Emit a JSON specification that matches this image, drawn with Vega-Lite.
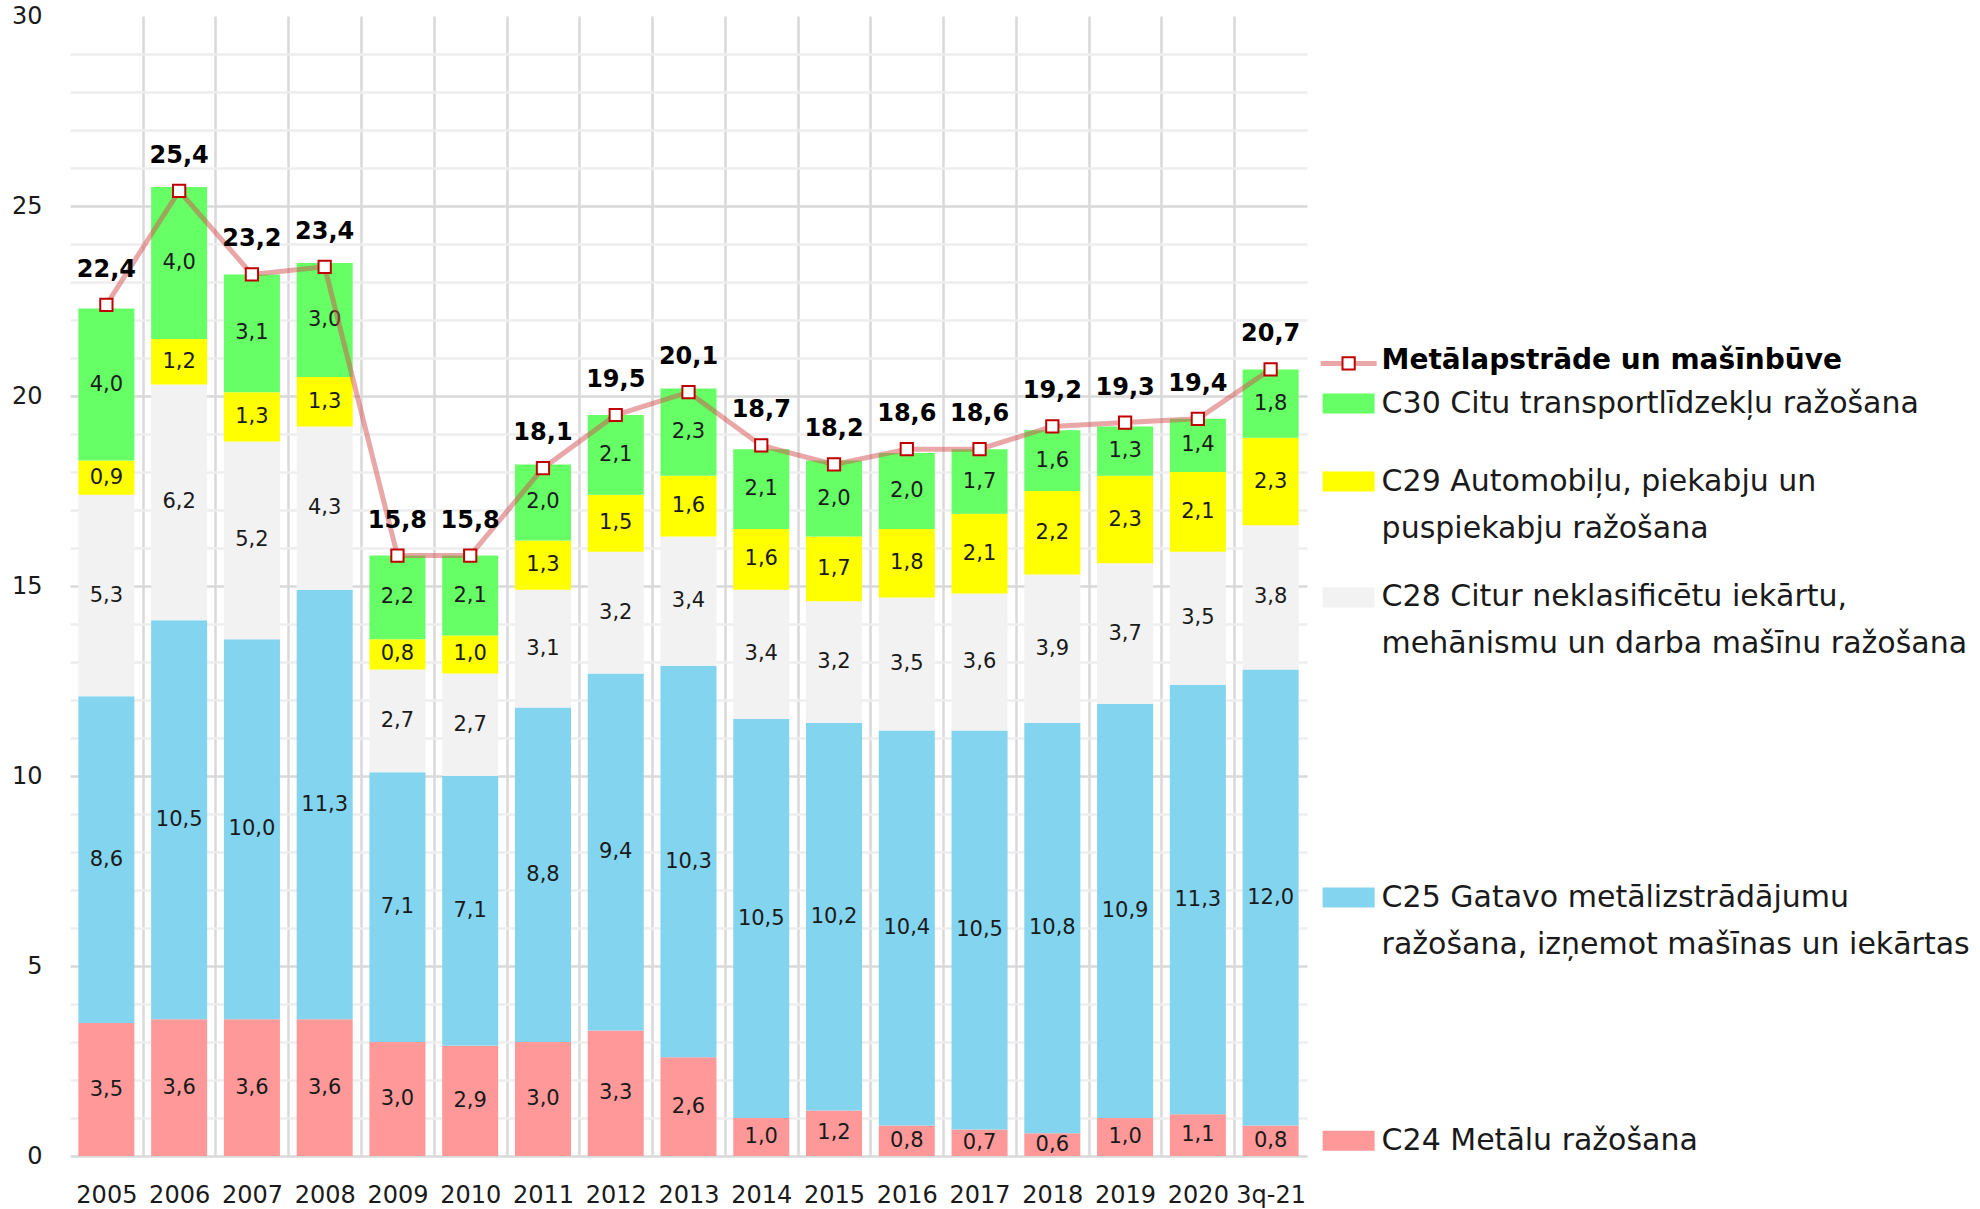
{
  "$schema": "https://vega.github.io/schema/vega-lite/v6.json",
  "width": 1237,
  "height": 1140,
  "autosize": {"type": "none"},
  "padding": {"left": 70, "top": 16, "right": 673, "bottom": 53},
  "background": "white",
  "config": {
    "font": "DejaVu Sans",
    "view": {"stroke": null},
    "locale": {"number": {"decimal": ",", "thousands": " ", "grouping": [3], "currency": ["", ""]}}
  },
  "resolve": {"axis": {"y": "independent"}},
  "datasets": {
    "main": [
      {"cat": "2005", "C24": 3.5, "C25": 8.6, "C28": 5.3, "C29": 0.9, "C30": 4.0, "total": 22.4},
      {"cat": "2006", "C24": 3.6, "C25": 10.5, "C28": 6.2, "C29": 1.2, "C30": 4.0, "total": 25.4},
      {"cat": "2007", "C24": 3.6, "C25": 10.0, "C28": 5.2, "C29": 1.3, "C30": 3.1, "total": 23.2},
      {"cat": "2008", "C24": 3.6, "C25": 11.3, "C28": 4.3, "C29": 1.3, "C30": 3.0, "total": 23.4},
      {"cat": "2009", "C24": 3.0, "C25": 7.1, "C28": 2.7, "C29": 0.8, "C30": 2.2, "total": 15.8},
      {"cat": "2010", "C24": 2.9, "C25": 7.1, "C28": 2.7, "C29": 1.0, "C30": 2.1, "total": 15.8},
      {"cat": "2011", "C24": 3.0, "C25": 8.8, "C28": 3.1, "C29": 1.3, "C30": 2.0, "total": 18.1},
      {"cat": "2012", "C24": 3.3, "C25": 9.4, "C28": 3.2, "C29": 1.5, "C30": 2.1, "total": 19.5},
      {"cat": "2013", "C24": 2.6, "C25": 10.3, "C28": 3.4, "C29": 1.6, "C30": 2.3, "total": 20.1},
      {"cat": "2014", "C24": 1.0, "C25": 10.5, "C28": 3.4, "C29": 1.6, "C30": 2.1, "total": 18.7},
      {"cat": "2015", "C24": 1.2, "C25": 10.2, "C28": 3.2, "C29": 1.7, "C30": 2.0, "total": 18.2},
      {"cat": "2016", "C24": 0.8, "C25": 10.4, "C28": 3.5, "C29": 1.8, "C30": 2.0, "total": 18.6},
      {"cat": "2017", "C24": 0.7, "C25": 10.5, "C28": 3.6, "C29": 2.1, "C30": 1.7, "total": 18.6},
      {"cat": "2018", "C24": 0.6, "C25": 10.8, "C28": 3.9, "C29": 2.2, "C30": 1.6, "total": 19.2},
      {"cat": "2019", "C24": 1.0, "C25": 10.9, "C28": 3.7, "C29": 2.3, "C30": 1.3, "total": 19.3},
      {"cat": "2020", "C24": 1.1, "C25": 11.3, "C28": 3.5, "C29": 2.1, "C30": 1.4, "total": 19.4},
      {"cat": "3q-21", "C24": 0.8, "C25": 12.0, "C28": 3.8, "C29": 2.3, "C30": 1.8, "total": 20.7}
    ],
    "names": [
      {"series": "C30", "l1": "C30 Citu transportlīdzekļu ražošana", "l2": ""},
      {"series": "C29", "l1": "C29 Automobiļu, piekabju un", "l2": "puspiekabju ražošana"},
      {"series": "C28", "l1": "C28 Citur neklasificētu iekārtu,", "l2": "mehānismu un darba mašīnu ražošana"},
      {"series": "C25", "l1": "C25 Gatavo metālizstrādājumu", "l2": "ražošana, izņemot mašīnas un iekārtas"},
      {"series": "C24", "l1": "C24 Metālu ražošana", "l2": ""}
    ]
  },
  "data": {"name": "main"},
  "encoding": {
    "x": {
      "field": "cat",
      "type": "nominal",
      "scale": {
        "domain": ["2005","2006","2007","2008","2009","2010","2011","2012","2013","2014","2015","2016","2017","2018","2019","2020","3q-21"],
        "paddingInner": 0.23,
        "paddingOuter": 0.115
      },
      "axis": {
        "title": null,
        "bandPosition": 0,
        "tickOffset": -8.4,
        "labelOffset": 8.4,
        "tickExtra": false,
        "grid": true,
        "gridColor": {"condition": {"test": "datum.value === '2005'", "value": "rgba(255,255,255,0)"}, "value": "#d9d9d9"},
        "gridWidth": 2.5,
        "ticks": false,
        "domain": false,
        "labelAngle": 0,
        "labelFontSize": 24,
        "labelColor": "#1a1a1a",
        "labelPadding": 27,
        "labelOverlap": false
      }
    }
  },
  "layer": [
    {
      "transform": [{"fold": ["C24", "C25", "C28", "C29", "C30"], "as": ["series", "v"]}],
      "mark": {"type": "bar"},
      "encoding": {
        "y": {
          "field": "v",
          "type": "quantitative",
          "stack": "zero",
          "scale": {"domain": [0, 30], "nice": false},
          "axis": {
            "title": null,
            "values": [0, 5, 10, 15, 20, 25, 30],
            "grid": true,
            "gridColor": {"condition": {"test": "datum.value === 30", "value": "rgba(255,255,255,0)"}, "value": "#d9d9d9"},
            "gridWidth": 2.5,
            "ticks": false,
            "domain": false,
            "labelFontSize": 24,
            "labelPadding": 28,
            "labelColor": "#1a1a1a",
            "labelOverlap": false
          }
        },
        "order": {"field": "series", "type": "ordinal", "sort": "ascending"},
        "color": {
          "field": "series",
          "type": "nominal",
          "scale": {"domain": ["C24", "C25", "C28", "C29", "C30"], "range": ["#FF9999", "#83D4EE", "#F2F2F2", "#FFFF00", "#66FF66"]},
          "legend": null
        }
      }
    },
    {
      "transform": [{"fold": ["C24", "C25", "C28", "C29", "C30"], "as": ["series", "v"]}],
      "mark": {"type": "text", "fontSize": 21, "color": "#1a1a1a", "baseline": "middle"},
      "encoding": {
        "y": {"field": "v", "type": "quantitative", "stack": "zero", "bandPosition": 0.5, "axis": null},
        "detail": {"field": "series"},
        "order": {"field": "series", "type": "ordinal", "sort": "ascending"},
        "text": {"field": "v", "type": "quantitative", "format": ".1f"}
      }
    },
    {
      "mark": {"type": "line", "color": "#D35050", "opacity": 0.5, "strokeWidth": 5},
      "encoding": {
        "y": {
          "field": "total",
          "type": "quantitative",
          "axis": {
            "orient": "right",
            "title": null,
            "values": [1,2,3,4,6,7,8,9,11,12,13,14,16,17,18,19,21,22,23,24,26,27,28,29],
            "labels": false,
            "ticks": false,
            "domain": false,
            "grid": true,
            "gridColor": "#eeeeee",
            "gridWidth": 2.5
          }
        }
      }
    },
    {
      "mark": {"type": "point", "shape": "square", "size": 150, "filled": true, "fill": "white", "stroke": "#C00000", "strokeWidth": 2, "opacity": 1},
      "encoding": {"y": {"field": "total", "type": "quantitative", "axis": null}}
    },
    {
      "mark": {"type": "text", "fontSize": 24, "fontWeight": "bold", "dy": -28, "baseline": "alphabetic", "color": "#000000"},
      "encoding": {
        "y": {"field": "total", "type": "quantitative", "axis": null},
        "text": {"field": "total", "type": "quantitative", "format": ".1f"}
      }
    },
    {
      "transform": [{"filter": "datum.cat === '3q-21'"}],
      "mark": {"type": "point", "shape": "M-1,0H1", "size": 3136, "filled": false, "stroke": "#D35050", "strokeOpacity": 0.5, "strokeWidth": 5, "opacity": 1, "xOffset": 78, "yOffset": -6},
      "encoding": {"y": {"field": "total", "type": "quantitative", "axis": null}}
    },
    {
      "transform": [{"filter": "datum.cat === '3q-21'"}],
      "mark": {"type": "point", "shape": "square", "size": 150, "filled": true, "fill": "white", "stroke": "#C00000", "strokeWidth": 2, "opacity": 1, "xOffset": 78, "yOffset": -6},
      "encoding": {"y": {"field": "total", "type": "quantitative", "axis": null}}
    },
    {
      "transform": [{"filter": "datum.cat === '3q-21'"}],
      "mark": {"type": "text", "align": "left", "baseline": "middle", "dx": 111, "dy": -8, "fontSize": 28, "fontWeight": "bold", "color": "#000000", "text": "Metālapstrāde un mašīnbūve"},
      "encoding": {"y": {"field": "total", "type": "quantitative", "axis": null}}
    },
    {
      "transform": [
        {"filter": "datum.cat === '3q-21'"},
        {"fold": ["C24", "C25", "C28", "C29", "C30"], "as": ["series", "v"]}
      ],
      "mark": {"type": "point", "shape": "M-1,-0.385H1V0.385H-1Z", "size": 2704, "filled": true, "opacity": 1, "strokeWidth": 0, "xOffset": 78},
      "encoding": {
        "y": {"field": "v", "type": "quantitative", "stack": "zero", "bandPosition": 0.5, "axis": null},
        "order": {"field": "series", "type": "ordinal", "sort": "ascending"},
        "color": {"field": "series", "type": "nominal", "legend": null}
      }
    },
    {
      "transform": [
        {"filter": "datum.cat === '3q-21'"},
        {"fold": ["C24", "C25", "C28", "C29", "C30"], "as": ["series", "v"]},
        {"lookup": "series", "from": {"data": {"name": "names"}, "key": "series", "fields": ["l1", "l2"]}}
      ],
      "mark": {"type": "text", "align": "left", "baseline": "middle", "dx": 111, "fontSize": 30, "color": "#1a1a1a"},
      "encoding": {
        "y": {"field": "v", "type": "quantitative", "stack": "zero", "bandPosition": 0.5, "axis": null},
        "detail": {"field": "series"},
        "order": {"field": "series", "type": "ordinal", "sort": "ascending"},
        "text": {"field": "l1"}
      }
    },
    {
      "transform": [
        {"filter": "datum.cat === '3q-21'"},
        {"fold": ["C24", "C25", "C28", "C29", "C30"], "as": ["series", "v"]},
        {"lookup": "series", "from": {"data": {"name": "names"}, "key": "series", "fields": ["l1", "l2"]}}
      ],
      "mark": {"type": "text", "align": "left", "baseline": "middle", "dx": 111, "dy": 47, "fontSize": 30, "color": "#1a1a1a"},
      "encoding": {
        "y": {"field": "v", "type": "quantitative", "stack": "zero", "bandPosition": 0.5, "axis": null},
        "detail": {"field": "series"},
        "order": {"field": "series", "type": "ordinal", "sort": "ascending"},
        "text": {"field": "l2"}
      }
    }
  ]
}
